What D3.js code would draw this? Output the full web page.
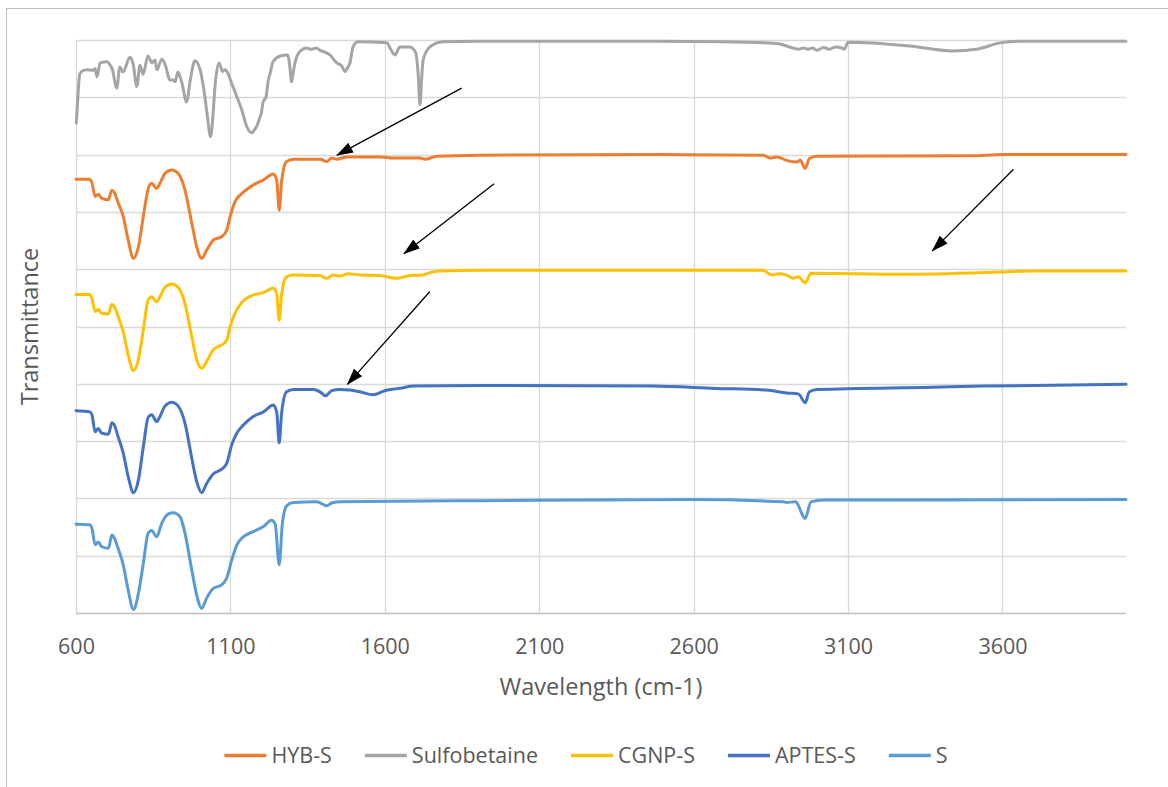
<!DOCTYPE html>
<html>
<head>
<meta charset="utf-8">
<script src="https://cdn.jsdelivr.net/npm/d3@7"></script>
<style>
  html, body { margin: 0; padding: 0; background: #fff; }
  svg { display: block; }
  text { font-family: "Open Sans", "Noto Sans", sans-serif; fill: #595959; }
</style>
</head>
<body>
<svg id="chart" width="1168" height="787"></svg>
<script>
// ---- Data (wavenumber cm-1, offset transmittance) ----
const seriesNames = ["HYB-S", "Sulfobetaine", "CGNP-S", "APTES-S", "S"];
const seriesColors = ["#ED7D31", "#A5A5A5", "#FFC000", "#4472C4", "#5B9BD5"];
const xTicks = [600, 1100, 1600, 2100, 2600, 3100, 3600];
const yGrid = [0, 1, 2, 3, 4, 5, 6, 7, 8, 9, 10];

const hybS = [[600,7.57],[645,7.57],[652,7.50],[662,7.27],[672,7.31],[683,7.24],[705,7.21],[716,7.38],[725,7.33],[735,7.18],[753,6.92],[769,6.51],[786,6.19],[802,6.39],[818,6.92],[834,7.41],[845,7.50],[861,7.41],[872,7.50],[888,7.67],[910,7.73],[931,7.67],[953,7.38],[975,6.80],[991,6.39],[1007,6.19],[1023,6.33],[1045,6.51],[1072,6.57],[1088,6.68],[1099,6.92],[1115,7.18],[1137,7.32],[1174,7.47],[1207,7.56],[1239,7.66],[1250,7.55],[1258,7.03],[1266,7.55],[1282,7.88],[1304,7.92],[1390,7.92],[1412,7.88],[1428,7.94],[1445,7.92],[1477,7.96],[1584,7.96],[1627,7.94],[1714,7.94],[1730,7.92],[1768,7.97],[1908,7.99],[2500,8.0],[2825,7.99],[2847,7.94],[2870,7.96],[2900,7.90],[2934,7.87],[2945,7.90],[2961,7.76],[2975,7.93],[2998,7.97],[3500,7.98],[3600,8.0],[4000,8.0]];

const sulfobetaine = [[601,8.55],[606,9.0],[612,9.40],[618,9.45],[636,9.48],[655,9.47],[662,9.50],[668,9.36],[678,9.60],[700,9.62],[712,9.55],[717,9.50],[732,9.16],[742,9.53],[752,9.44],[775,9.70],[785,9.58],[797,9.19],[807,9.56],[817,9.40],[833,9.72],[846,9.60],[856,9.65],[862,9.48],[878,9.67],[890,9.55],[904,9.30],[915,9.30],[921,9.27],[930,9.44],[943,9.25],[958,8.92],[970,9.3],[985,9.64],[1002,9.48],[1015,9.1],[1024,8.73],[1036,8.31],[1045,8.8],[1050,9.18],[1063,9.60],[1075,9.45],[1082,9.48],[1108,9.19],[1125,8.95],[1137,8.78],[1153,8.49],[1169,8.38],[1180,8.45],[1185,8.49],[1196,8.66],[1200,8.72],[1206,8.92],[1215,9.0],[1222,9.27],[1230,9.45],[1238,9.62],[1261,9.72],[1286,9.74],[1292,9.55],[1298,9.27],[1304,9.45],[1309,9.60],[1325,9.80],[1347,9.86],[1360,9.84],[1379,9.86],[1390,9.82],[1400,9.80],[1422,9.74],[1444,9.60],[1460,9.55],[1471,9.45],[1480,9.52],[1487,9.60],[1497,9.88],[1513,9.97],[1606,9.95],[1620,9.83],[1633,9.74],[1649,9.88],[1681,9.88],[1700,9.78],[1708,9.4],[1714,8.87],[1719,9.3],[1724,9.65],[1746,9.88],[1788,9.97],[1900,9.98],[2400,9.98],[2700,9.97],[2869,9.94],[2922,9.86],[2940,9.84],[2955,9.86],[2970,9.84],[2985,9.86],[3000,9.82],[3020,9.87],[3040,9.84],[3060,9.88],[3080,9.86],[3088,9.84],[3100,9.96],[3290,9.90],[3440,9.81],[3516,9.84],[3592,9.95],[3657,9.98],[4000,9.98]];

const cgnpS = [[600,5.56],[645,5.56],[652,5.48],[662,5.26],[672,5.30],[683,5.23],[705,5.22],[716,5.39],[725,5.34],[735,5.2],[753,4.91],[769,4.50],[786,4.23],[802,4.42],[818,4.94],[834,5.47],[845,5.52],[861,5.43],[872,5.52],[888,5.68],[910,5.74],[931,5.68],[953,5.40],[975,4.82],[991,4.42],[1007,4.27],[1023,4.39],[1045,4.60],[1072,4.68],[1088,4.76],[1099,5.00],[1115,5.23],[1137,5.42],[1174,5.55],[1207,5.59],[1239,5.67],[1250,5.57],[1258,5.11],[1266,5.57],[1282,5.87],[1304,5.90],[1390,5.89],[1412,5.84],[1433,5.90],[1455,5.88],[1482,5.92],[1519,5.90],[1584,5.89],[1638,5.84],[1681,5.89],[1724,5.90],[1746,5.94],[1778,5.97],[1908,5.98],[2825,5.98],[2853,5.90],[2875,5.92],[2900,5.90],[2922,5.84],[2940,5.87],[2961,5.76],[2980,5.93],[3268,5.91],[3592,5.95],[3700,5.97],[4000,5.97]];

const aptesS = [[600,3.53],[645,3.51],[652,3.45],[662,3.16],[672,3.22],[683,3.14],[705,3.12],[716,3.32],[725,3.27],[735,3.1],[753,2.79],[769,2.38],[786,2.10],[802,2.32],[818,2.90],[834,3.42],[845,3.46],[861,3.34],[872,3.43],[888,3.61],[910,3.68],[931,3.61],[953,3.31],[975,2.70],[991,2.29],[1007,2.10],[1023,2.26],[1045,2.43],[1072,2.51],[1088,2.61],[1104,2.93],[1121,3.14],[1142,3.28],[1174,3.43],[1207,3.51],[1239,3.63],[1250,3.5],[1258,2.97],[1266,3.5],[1282,3.86],[1304,3.90],[1368,3.90],[1390,3.86],[1408,3.79],[1428,3.88],[1455,3.90],[1487,3.89],[1519,3.86],[1562,3.81],[1600,3.88],[1649,3.92],[1692,3.96],[1908,3.97],[2465,3.96],[2671,3.92],[2836,3.89],[2901,3.84],[2940,3.82],[2961,3.67],[2975,3.86],[3000,3.90],[3375,3.94],[3537,3.96],[4000,3.99]];

const sPlain = [[600,1.55],[645,1.54],[652,1.47],[662,1.19],[672,1.24],[683,1.16],[705,1.13],[716,1.36],[725,1.3],[735,1.15],[753,0.84],[769,0.40],[786,0.06],[802,0.34],[818,0.87],[834,1.40],[845,1.44],[861,1.33],[878,1.57],[899,1.73],[915,1.75],[937,1.68],[953,1.39],[975,0.75],[991,0.31],[1007,0.08],[1023,0.26],[1045,0.43],[1072,0.49],[1088,0.61],[1104,0.92],[1121,1.19],[1142,1.33],[1174,1.42],[1207,1.51],[1233,1.62],[1245,1.55],[1258,0.84],[1268,1.55],[1282,1.87],[1304,1.93],[1379,1.94],[1395,1.91],[1412,1.87],[1428,1.92],[1455,1.94],[1908,1.96],[2600,1.98],[2890,1.94],[2901,1.93],[2930,1.94],[2961,1.65],[2980,1.94],[3020,1.97],[4000,1.98]];

// arrow annotations: [fromX, fromY, toX, toY] in data units
const arrows = [[1849,9.16,1445,7.99],[1954,7.49,1662,6.27],[1746,5.61,1479,3.99],[3635,7.74,3373,6.32]];

const seriesData = [hybS, sulfobetaine, cgnpS, aptesS, sPlain];

// ---- Layout ----
const svg = d3.select("#chart");
const W = 1168, H = 787;
const plot = { left: 76, right: 1126, top: 40, bottom: 613 };

svg.append("rect").attr("width", W).attr("height", H).attr("fill", "#fff");
// chart border (left/top visible)
svg.append("rect").attr("x", 6.5).attr("y", 8.5).attr("width", 1200).attr("height", 1200)
  .attr("fill", "none").attr("stroke", "#bfbfbf").attr("stroke-width", 1);

const x = d3.scaleLinear().domain([600, 4000]).range([plot.left, plot.right]);
const y = d3.scaleLinear().domain([0, 10]).range([plot.bottom, plot.top]);

// gridlines
const grid = svg.append("g");
grid.selectAll("line.h").data(yGrid.filter(d => d > 0)).join("line")
  .attr("x1", plot.left).attr("x2", plot.right)
  .attr("y1", d => Math.round(y(d)) + 0.5).attr("y2", d => Math.round(y(d)) + 0.5)
  .attr("stroke", "#d9d9d9").attr("stroke-width", 1.3);
grid.selectAll("line.v").data(xTicks).join("line")
  .attr("x1", d => Math.round(x(d)) + 0.5).attr("x2", d => Math.round(x(d)) + 0.5)
  .attr("y1", plot.top).attr("y2", plot.bottom)
  .attr("stroke", "#d9d9d9").attr("stroke-width", 1.3);

// x axis line
svg.append("line").attr("x1", plot.left).attr("x2", plot.right)
  .attr("y1", Math.round(y(0)) + 0.5).attr("y2", Math.round(y(0)) + 0.5)
  .attr("stroke", "#bfbfbf").attr("stroke-width", 1.5);

// x axis ticks via d3 axis (labels only)
const xAxis = d3.axisBottom(x).tickValues(xTicks).tickSize(0).tickPadding(0).tickFormat(d3.format("d"));
const gx = svg.append("g").attr("transform", `translate(0,${plot.bottom})`).call(xAxis);
gx.select(".domain").remove();
gx.selectAll("text").attr("dy", null).attr("y", 41)
  .style("font-size", "21.5px").style("fill", "#595959")
  .style("font-family", "'Open Sans', 'Noto Sans', sans-serif");

// axis titles
svg.append("text").attr("x", (plot.left + plot.right) / 2).attr("y", 695)
  .attr("text-anchor", "middle").style("font-size", "23.5px").text("Wavelength (cm-1)");
svg.append("text").attr("transform", `translate(38,${(plot.top + plot.bottom) / 2}) rotate(-90)`)
  .attr("text-anchor", "middle").style("font-size", "23.5px").text("Transmittance");

// series lines
const line = d3.line().x(d => x(d[0])).y(d => y(d[1])).curve(d3.curveMonotoneX);
const gLines = svg.append("g");
seriesData.forEach((data, i) => {
  gLines.append("path").datum(data).attr("d", line)
    .attr("fill", "none").attr("stroke", seriesColors[i])
    .attr("stroke-width", 3).attr("stroke-linejoin", "round").attr("stroke-linecap", "round");
});

// arrows
const defs = svg.append("defs");
defs.append("marker").attr("id", "ah").attr("markerUnits", "userSpaceOnUse")
  .attr("viewBox", "0 -6 17 12").attr("refX", 16).attr("refY", 0)
  .attr("markerWidth", 17).attr("markerHeight", 12).attr("orient", "auto")
  .append("path").attr("d", "M0,-5.5L17,0L0,5.5Z").attr("fill", "#000");
svg.append("g").selectAll("line").data(arrows).join("line")
  .attr("x1", d => x(d[0])).attr("y1", d => y(d[1]))
  .attr("x2", d => x(d[2])).attr("y2", d => y(d[3]))
  .attr("stroke", "#000").attr("stroke-width", 1.3).attr("marker-end", "url(#ah)");

// legend
const legend = svg.append("g");
const lineLen = 42, textGap = 5;
const items = seriesNames.map((name, i) => {
  const g = legend.append("g");
  g.append("line").attr("x1", 0).attr("x2", lineLen).attr("y1", 0).attr("y2", 0)
    .attr("stroke", seriesColors[i]).attr("stroke-width", 3.5);
  const t = g.append("text").attr("x", lineLen + textGap).attr("y", 7.5).style("font-size", "21.5px").text(name);
  return { g, w: lineLen + textGap + t.node().getComputedTextLength() };
});
const gap = 33;
const total = d3.sum(items, d => d.w) + gap * (items.length - 1);
let cx = 586 - total / 2;
items.forEach(it => { it.g.attr("transform", `translate(${cx},755.5)`); cx += it.w + gap; });
</script>
</body>
</html>
